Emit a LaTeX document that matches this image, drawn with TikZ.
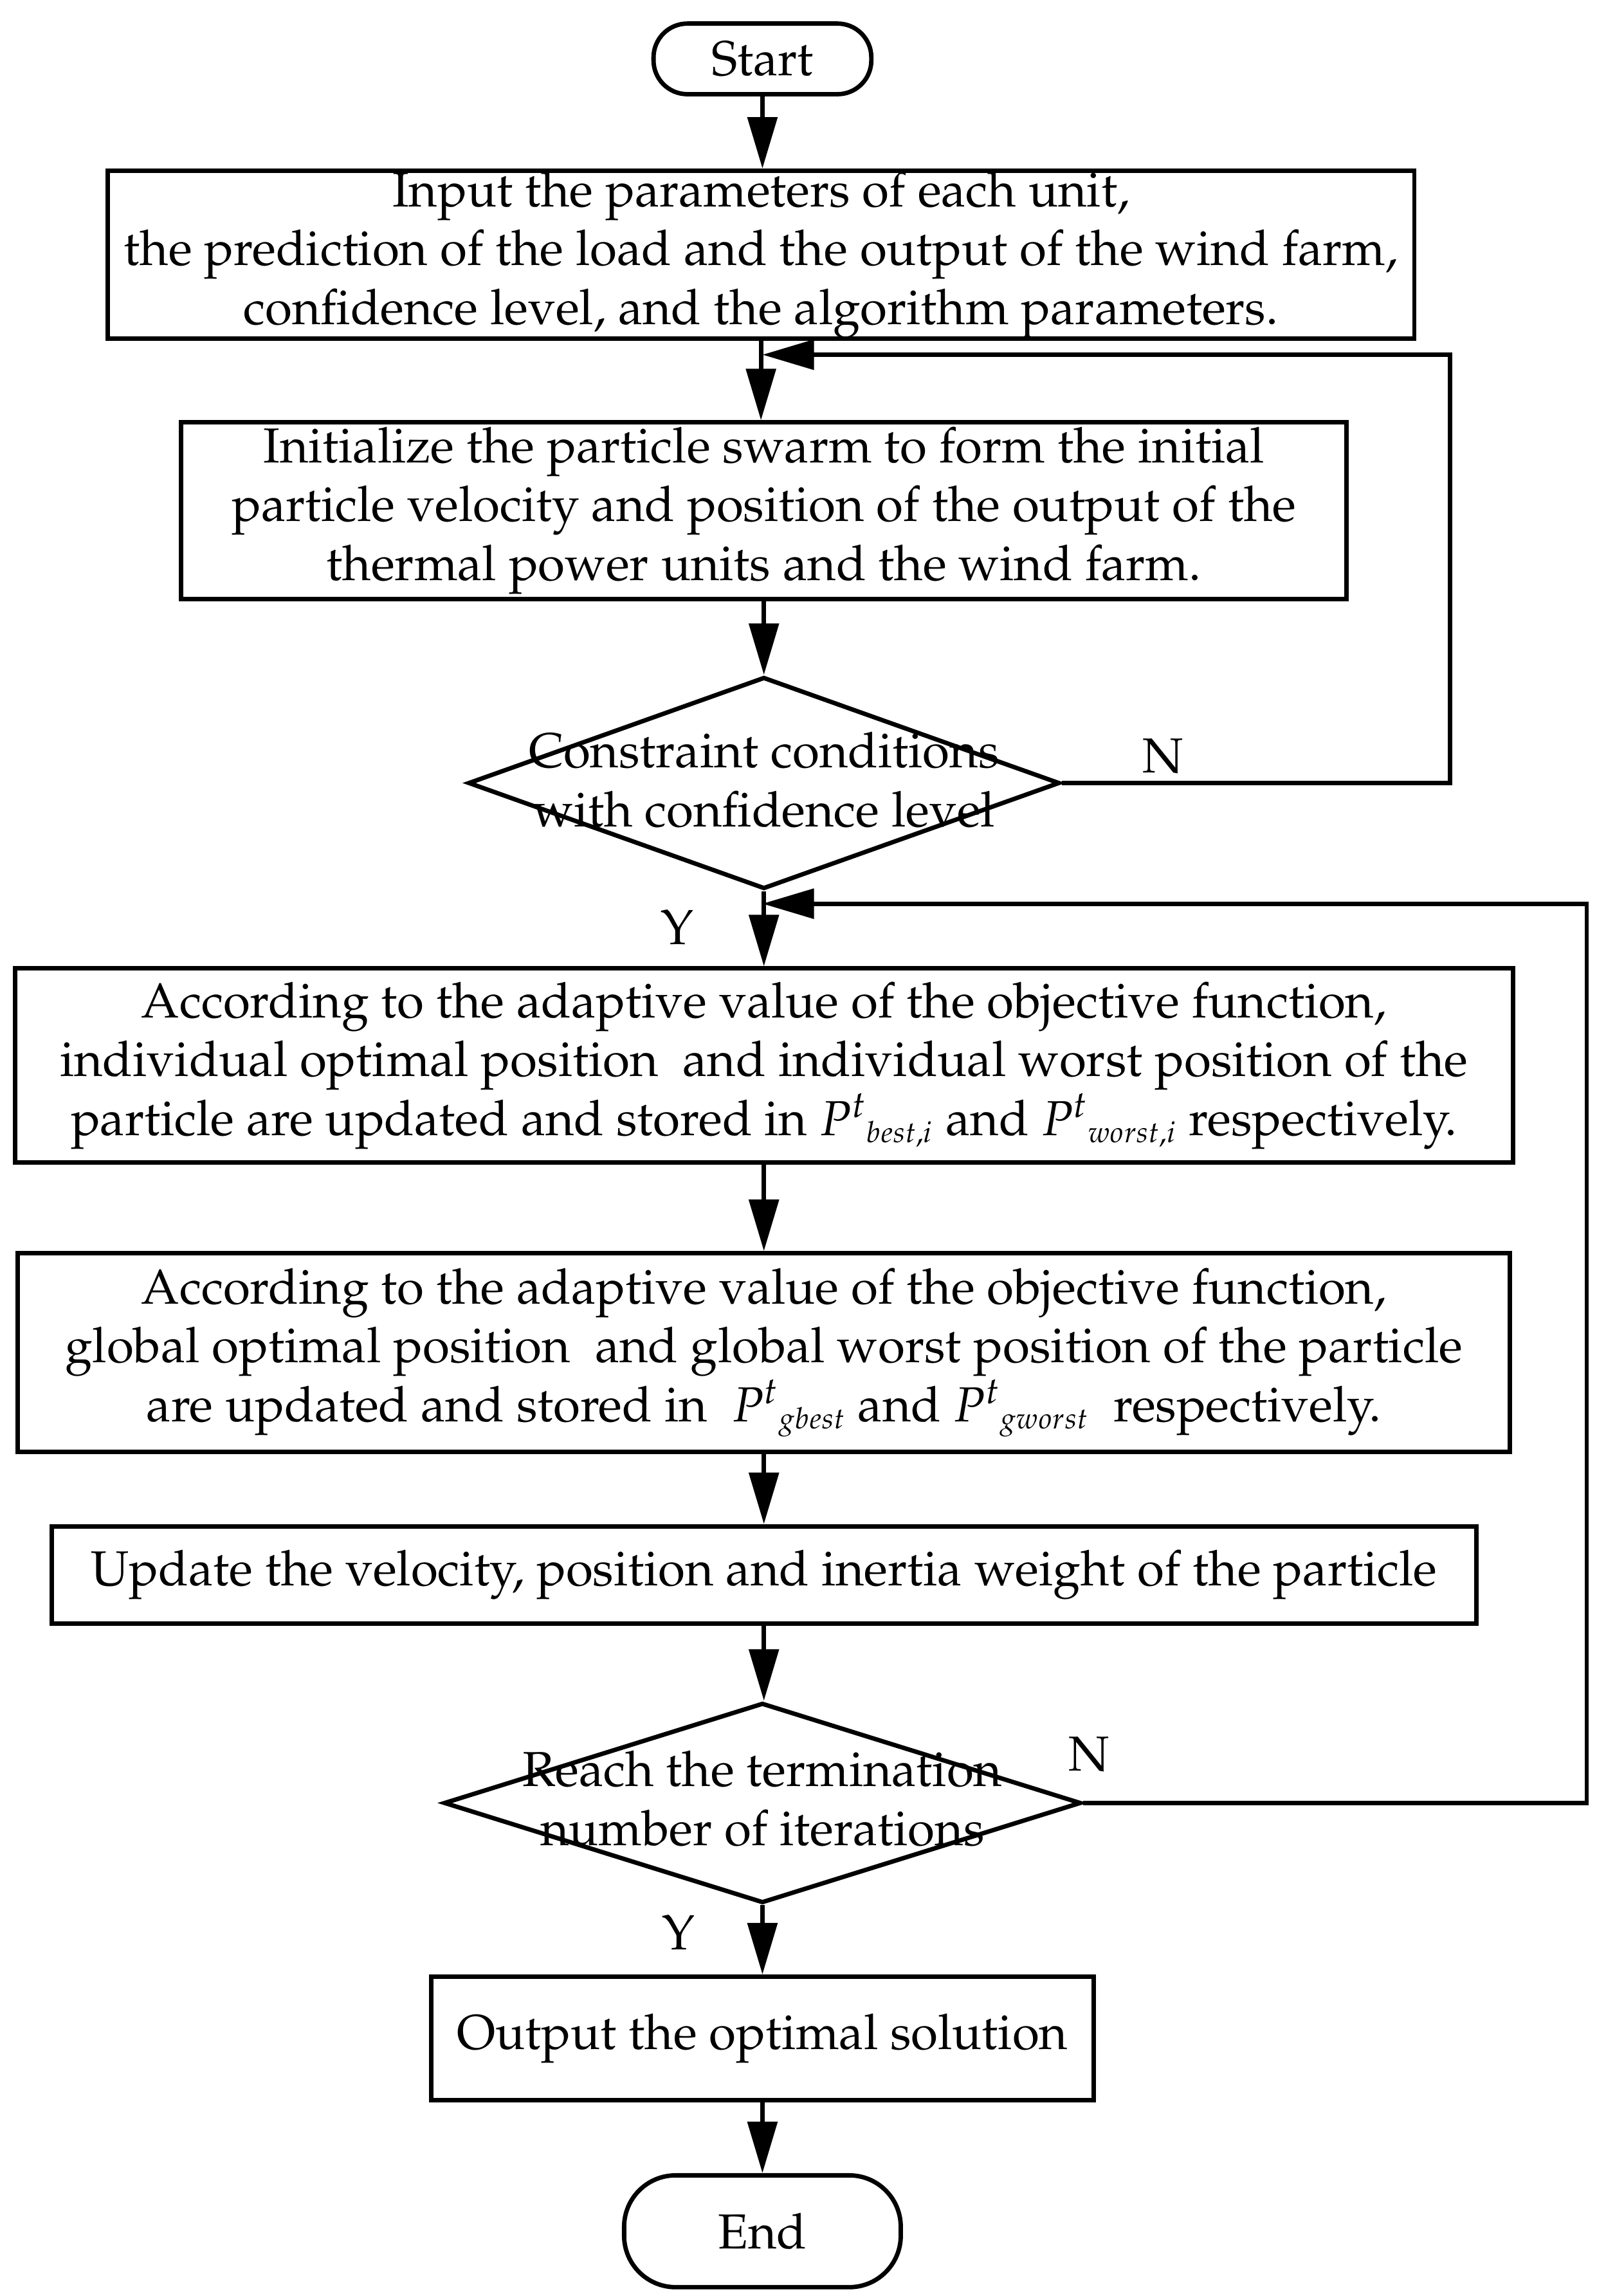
\documentclass[tikz,border=0pt]{standalone}
\usepackage[T1]{fontenc}
\usepackage{mathpazo}
\usetikzlibrary{shapes.geometric,arrows.meta}

\begin{document}
\begin{tikzpicture}[x=0.02cm,y=-0.02cm,line width=1.7pt,
  font=\fontsize{19}{22.8}\selectfont,
  term/.style={draw,rectangle,rounded corners=0.46cm,minimum width=2.96cm,minimum height=0.96cm},
  procbox/.style={draw,rectangle,align=center,inner sep=0pt},
  decision/.style={draw,diamond,inner sep=0pt},
  flow/.style={-{Triangle[length=0.7cm,width=0.4cm]}}]
\useasboundingbox (0,0) rectangle (1085,1560);
% main column
\node[term] (start) at (518,40) {Start};
\node[procbox,minimum width=17.76cm,minimum height=2.28cm] (input) at (517,173) {Input the parameters of each unit,\\the prediction of the load and the output of the wind farm,\\confidence level, and the algorithm parameters.};
\node[procbox,minimum width=15.84cm,minimum height=2.4cm] (init) at (519,347) {Initialize the particle swarm to form the initial\\particle velocity and position of the output of the\\thermal power units and the wind farm.};
\node[decision,minimum width=8.04cm,minimum height=2.88cm] (cons) at (519,532) {};
\node[align=center] (constxt) at (519,530) {Constraint conditions\\with confidence level};
\node[procbox,minimum width=20.36cm,minimum height=2.64cm] (indiv) at (519,724) {According to the adaptive value of the objective function,\\individual optimal position\ \ and individual worst position of the\\particle are updated and stored in $P^{t}{}_{\scriptscriptstyle best,i}$ and $P^{t}{}_{\scriptscriptstyle worst,i}$ respectively.};
\node[procbox,minimum width=20.28cm,minimum height=2.7cm] (glob) at (519,919) {According to the adaptive value of the objective function,\\global optimal position\ \ and global worst position of the particle\\are updated and stored in\ \ $P^{t}{}_{\scriptscriptstyle gbest}$ and $P^{t}{}_{\scriptscriptstyle gworst}$\ \ respectively.};
\node[procbox,minimum width=19.36cm,minimum height=1.32cm] (upd) at (519,1070) {Update the velocity, position and inertia weight of the particle};
\node[decision,minimum width=8.66cm,minimum height=2.72cm] (iter) at (518,1225) {};
\node[align=center] (itertxt) at (518,1222) {Reach the termination\\number of iterations};
\node[procbox,minimum width=9cm,minimum height=1.68cm] (out) at (518,1385) {Output the optimal solution};
\node[term,minimum width=3.76cm,minimum height=1.52cm,rounded corners=0.7cm] (end) at (518,1516) {End};
% branch labels
\node (n1) at (790,514) {N};
\node (y1) at (460,630) {Y};
\node (n2) at (740,1192) {N};
\node (y2) at (461,1313) {Y};
% loop corners
\coordinate (loop1) at (985,241); \coordinate (join1) at (518,241);
\coordinate (loop2) at (1078,614); \coordinate (join2) at (518,614);
\foreach \a/\b in {start/input,input/init,init/cons,cons/indiv,indiv/glob,glob/upd,upd/iter,iter/out,out/end}
  \draw[flow] (\a.south) -- (\a.south |- \b.north);
\draw[flow] (cons.east) -| (loop1) -- (join1);
\draw[flow] (iter.east) -| (loop2) -- (join2);
\end{tikzpicture}
\end{document}
